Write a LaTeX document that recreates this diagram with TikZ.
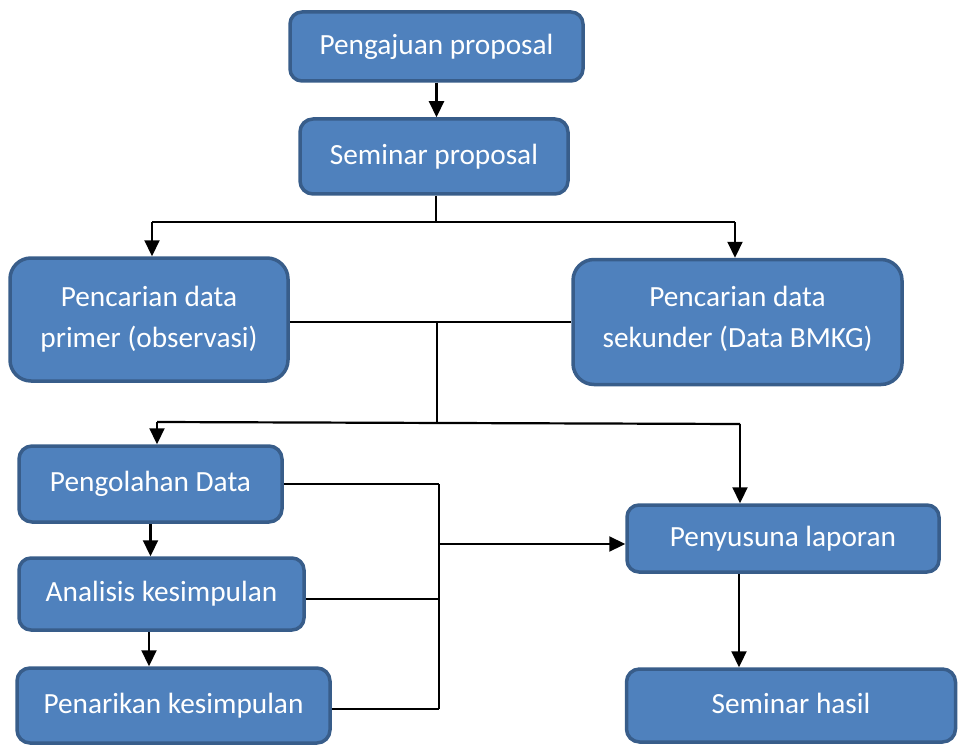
\documentclass[tikz,border=0pt]{standalone}
\usepackage{fontspec}
\setmainfont{Carlito}
\usetikzlibrary{arrows.meta,calc}
\definecolor{boxfill}{HTML}{4F81BD}
\definecolor{boxline}{HTML}{385D8A}
\begin{document}
\begin{tikzpicture}[x=1pt,y=-1pt,
  box/.style={draw=boxline, fill=boxfill, line width=3.5pt, text=white,
    font=\fontsize{29.3}{41}\selectfont, inner sep=0pt, align=center},
  conn/.style={draw=black, line width=2.2pt},
  arr/.style={conn, -{Triangle[length=16pt,width=15pt]}}]
\useasboundingbox (0,0) rectangle (958,746);

\node[box, minimum width=293pt, minimum height=69pt, rounded corners=12pt] (pp) at (436.5,46.5) {Pengajuan proposal};
\node[box, minimum width=268pt, minimum height=75pt, rounded corners=13pt] (sp) at (434,156.5) {Seminar proposal};
\node[box, minimum width=278pt, minimum height=123pt, rounded corners=21pt] (prim) at (149,319.5) {Pencarian data\\primer (observasi)};
\node[box, minimum width=329pt, minimum height=125pt, rounded corners=21pt] (sek) at (737.5,322) {\raisebox{0pt}[\height][\dimexpr\depth+6pt\relax]{\begin{tabular}{@{}c@{}}Pencarian data\\sekunder (Data BMKG)\end{tabular}}};
\node[box, minimum width=263pt, minimum height=76pt, rounded corners=13pt] (peng) at (150.5,484) {Pengolahan Data};
\node[box, minimum width=285pt, minimum height=72pt, rounded corners=12pt] (anal) at (161.5,594) {Analisis kesimpulan};
\node[box, minimum width=313pt, minimum height=75pt, rounded corners=13pt] (penar) at (173.5,705.5) {Penarikan kesimpulan};
\node[box, minimum width=312pt, minimum height=67pt, rounded corners=12pt] (lap) at (783,538.5) {Penyusuna laporan};
\node[box, minimum width=329pt, minimum height=73pt, rounded corners=13pt] (sh) at (791,705.5) {\raisebox{0pt}[\height][\dimexpr\depth+5pt\relax]{Seminar hasil}};

% top
\draw[arr] (pp.south) -- (pp.south |- sp.north);
\coordinate (t1) at (436,222);
\coordinate (t1L) at (152,222);
\coordinate (t1R) at (735,222);
\draw[conn] (t1 |- sp.south) -- (t1);
\draw[conn] (t1L) -- (t1R);
\draw[arr] (t1L) -- (t1L |- prim.north);
\draw[arr] (t1R) -- (t1R |- sek.north);

% middle
\draw[conn] (prim.east |- sek.west) -- (sek.west);
\coordinate (t2) at (437,322.5);
\coordinate (t3) at (437,422);
\coordinate (t3L) at (157,422);
\coordinate (t3R) at (740,424);
\draw[conn] (t2) -- (t3);
\draw[conn] (t3L) -- (t3R);
\draw[arr] (t3L) -- (t3L |- peng.north);
\draw[arr] (t3R) -- (t3R |- lap.north);

% left column
\draw[arr] (peng.south) -- (peng.south |- anal.north);
\coordinate (k) at (149,0);
\draw[arr] (k |- anal.south) -- (k |- penar.north);

% bracket
\coordinate (bx) at (439,0);
\draw[conn] (peng.east) -- (bx |- peng.east);
\draw[conn] ($(anal.east)+(0,5)$) -- ($(bx |- anal.east)+(0,5)$);
\draw[conn] ($(penar.east)+(0,3.5)$) -- ($(bx |- penar.east)+(0,3.5)$);
\draw[conn] (bx |- peng.east) -- ($(bx |- penar.east)+(0,3.5)$);
\coordinate (bm) at (439,544);
\draw[arr] (bm) -- (lap.west |- bm);

% right column
\coordinate (m) at (739,0);
\draw[arr] (m |- lap.south) -- (m |- sh.north);
\end{tikzpicture}
\end{document}
